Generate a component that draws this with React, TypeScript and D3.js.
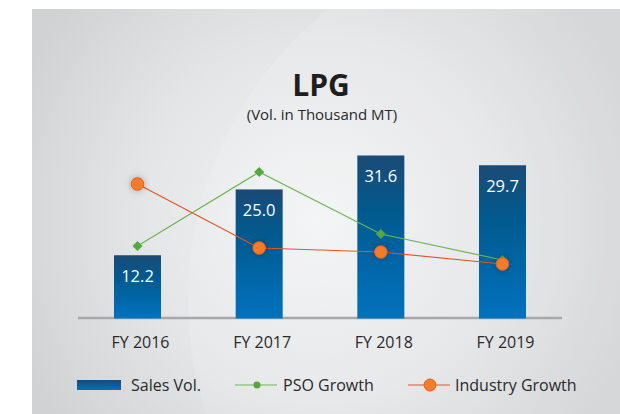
import React, { useEffect, useRef } from 'react';
import * as d3 from 'd3';

// data
const years = ['FY 2016', 'FY 2017', 'FY 2018', 'FY 2019'];
const salesVol = [12.2, 25.0, 31.6, 29.7];
const psoGrowth = [36, 73, 42, 29];
const industryGrowth = [67, 35, 33, 27];
const legendLabels = ['Sales Vol.', 'PSO Growth', 'Industry Growth'];

const FONT = '"Open Sans", "Noto Sans", sans-serif';

const LpgChart: React.FC = () => {
  const ref = useRef<HTMLDivElement>(null);

  useEffect(() => {
    document.body.style.margin = '0';
    const width = 620;
    const height = 414;
    const root = d3.select(ref.current);
    root.selectAll('*').remove();
    const svg = root.append('svg')
      .attr('width', width)
      .attr('height', height)
      .style('display', 'block');

    const defs = svg.append('defs');
    const bg = defs.append('radialGradient')
      .attr('id', 'bg')
      .attr('gradientUnits', 'userSpaceOnUse')
      .attr('cx', 320).attr('cy', 220).attr('r', 330);
    bg.append('stop').attr('offset', 0).attr('stop-color', '#f3f4f5');
    bg.append('stop').attr('offset', 0.55).attr('stop-color', '#e4e5e7');
    bg.append('stop').attr('offset', 1).attr('stop-color', '#d1d2d4');

    const barGrad = defs.append('linearGradient')
      .attr('id', 'bar').attr('x1', 0).attr('y1', 0).attr('x2', 0).attr('y2', 1);
    barGrad.append('stop').attr('offset', 0).attr('stop-color', '#1b4a76');
    barGrad.append('stop').attr('offset', 0.35).attr('stop-color', '#015a8f');
    barGrad.append('stop').attr('offset', 0.8).attr('stop-color', '#016bb1');
    barGrad.append('stop').attr('offset', 1).attr('stop-color', '#0172bd');

    const legGrad = defs.append('linearGradient')
      .attr('id', 'legbar').attr('x1', 0).attr('y1', 0).attr('x2', 0).attr('y2', 1);
    legGrad.append('stop').attr('offset', 0).attr('stop-color', '#1b4a76');
    legGrad.append('stop').attr('offset', 1).attr('stop-color', '#0170b9');

    const shadow = defs.append('filter').attr('id', 'glow')
      .attr('x', '-150%').attr('y', '-150%').attr('width', '400%').attr('height', '400%');
    shadow.append('feDropShadow')
      .attr('dx', 0).attr('dy', 0).attr('stdDeviation', 3.5)
      .attr('flood-color', '#000').attr('flood-opacity', 0.3);

    defs.append('clipPath').attr('id', 'panel')
      .append('rect').attr('x', 32).attr('y', 9).attr('width', width - 32).attr('height', height - 9);

    // panel
    svg.append('rect')
      .attr('x', 32).attr('y', 9)
      .attr('width', width - 32).attr('height', height - 9)
      .attr('fill', 'url(#bg)');
    svg.append('circle')
      .attr('clip-path', 'url(#panel)')
      .attr('cx', 560).attr('cy', 300).attr('r', 372)
      .attr('fill', '#ffffff').attr('opacity', 0.12);

    // title
    svg.append('text')
      .attr('x', 321).attr('y', 96)
      .attr('text-anchor', 'middle')
      .style('font-family', FONT).style('font-weight', 700).style('font-size', '30px')
      .attr('fill', '#1e1e1e')
      .text('LPG');
    svg.append('text')
      .attr('x', 322).attr('y', 120)
      .attr('text-anchor', 'middle')
      .style('font-family', FONT).style('font-size', '15px')
      .attr('fill', '#2a2a2a')
      .text('(Vol. in Thousand MT)');

    // scales
    const x = d3.scalePoint<string>()
      .domain(years)
      .range([137.5, 502.5]);
    const barW = 47;
    const y = d3.scaleLinear().domain([0, 35]).range([318, 138]);
    const yg = d3.scaleLinear().domain([0, 100]).range([318, 118]);

    // axis baseline
    svg.append('line')
      .attr('x1', 78).attr('x2', 562)
      .attr('y1', 318).attr('y2', 318)
      .attr('stroke', '#a7a8aa').attr('stroke-width', 2.5);

    // bars
    svg.append('g')
      .selectAll('rect')
      .data(salesVol)
      .join('rect')
      .attr('x', (_, i) => (x(years[i]) || 0) - barW / 2)
      .attr('y', d => y(d))
      .attr('width', barW)
      .attr('height', d => y(0) - y(d) + 0.5)
      .attr('fill', 'url(#bar)');

    svg.append('g')
      .selectAll('text')
      .data(salesVol)
      .join('text')
      .attr('x', (_, i) => x(years[i]) || 0)
      .attr('y', d => y(d) + 27)
      .attr('text-anchor', 'middle')
      .style('font-family', FONT).style('font-size', '16.5px')
      .attr('fill', '#ffffff')
      .text(d => d.toFixed(1));

    // x labels
    svg.append('g')
      .selectAll('text')
      .data(years)
      .join('text')
      .attr('x', d => (x(d) || 0) + 3)
      .attr('y', 348)
      .attr('text-anchor', 'middle')
      .style('font-family', FONT).style('font-size', '16px')
      .attr('fill', '#2a2a2a')
      .text(d => d);

    // lines
    const line = d3.line<number>()
      .x((_, i) => x(years[i]) || 0)
      .y(d => yg(d));

    svg.append('path')
      .datum(psoGrowth)
      .attr('d', line)
      .attr('fill', 'none')
      .attr('stroke', '#6db552').attr('stroke-width', 1.2);
    svg.append('g')
      .selectAll('path')
      .data(psoGrowth)
      .join('path')
      .attr('d', d3.symbol(d3.symbolSquare, 50)())
      .attr('transform', (d, i) => `translate(${x(years[i])},${yg(d)}) rotate(45)`)
      .attr('fill', '#55a73f');

    svg.append('path')
      .datum(industryGrowth)
      .attr('d', line)
      .attr('fill', 'none')
      .attr('stroke', '#e0562a').attr('stroke-width', 1.2);
    svg.append('g')
      .selectAll('circle')
      .data(industryGrowth)
      .join('circle')
      .attr('cx', (_, i) => x(years[i]) || 0)
      .attr('cy', d => yg(d))
      .attr('r', 6.3)
      .attr('fill', '#f57a2c')
      .attr('stroke', '#e2601e').attr('stroke-width', 1)
      .attr('filter', 'url(#glow)');

    // legend
    const ly = 385;
    const legend = svg.append('g').style('font-family', FONT).style('font-size', '16px');
    legend.append('rect')
      .attr('x', 77).attr('y', ly - 5).attr('width', 44).attr('height', 10)
      .attr('fill', 'url(#legbar)');
    legend.append('text')
      .attr('x', 131).attr('y', ly).attr('dy', '0.35em')
      .attr('fill', '#2a2a2a').text(legendLabels[0]);

    legend.append('line')
      .attr('x1', 235).attr('x2', 277).attr('y1', ly).attr('y2', ly)
      .attr('stroke', '#6db552').attr('stroke-width', 1.2);
    legend.append('circle')
      .attr('cx', 257).attr('cy', ly).attr('r', 3.5).attr('fill', '#55a73f');
    legend.append('text')
      .attr('x', 283).attr('y', ly).attr('dy', '0.35em')
      .attr('fill', '#2a2a2a').text(legendLabels[1]);

    legend.append('line')
      .attr('x1', 408).attr('x2', 450).attr('y1', ly).attr('y2', ly)
      .attr('stroke', '#e0562a').attr('stroke-width', 1.2);
    legend.append('circle')
      .attr('cx', 430).attr('cy', ly).attr('r', 6)
      .attr('fill', '#f57a2c').attr('stroke', '#e2601e').attr('stroke-width', 1);
    legend.append('text')
      .attr('x', 455).attr('y', ly).attr('dy', '0.35em')
      .attr('fill', '#2a2a2a').text(legendLabels[2]);
  }, []);

  return <div ref={ref}></div>;
};

export default function App() {
  return <LpgChart />;
}
